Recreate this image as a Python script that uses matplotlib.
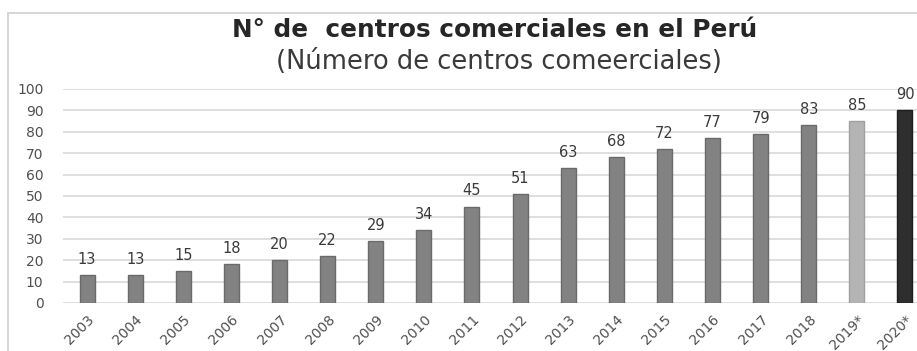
import numpy as np
import matplotlib.pyplot as plt
from matplotlib.patches import Rectangle

years = ['2003', '2004', '2005', '2006', '2007', '2008', '2009', '2010', '2011',
         '2012', '2013', '2014', '2015', '2016', '2017', '2018', '2019*', '2020*']
centros = [13, 13, 15, 18, 20, 22, 29, 34, 45, 51, 63, 68, 72, 77, 79, 83, 85, 90]

colores = ['#828282'] * 16 + ['#b4b4b4', '#2e2e2e']
bordes = ['#6a6a6a'] * 16 + ['#a0a0a0', '#1e1e1e']

plt.rcParams['font.family'] = ['DejaVu Sans']

fig = plt.figure(figsize=(9.17, 3.51), dpi=100)
fig.patch.set_facecolor('white')

# marco del grafico
fig.patches.append(Rectangle((8 / 917, -0.1), 1.2, 1.1 - 13 / 351, transform=fig.transFigure,
                             fill=False, edgecolor='#d0d0d0', linewidth=1.2))

ax = fig.add_axes([63 / 917, 48 / 351, 866 / 917, 214 / 351])
x = np.arange(len(years))
ax.bar(x, centros, width=0.31, color=colores, edgecolor=bordes, linewidth=1, zorder=3)

for i, v in enumerate(centros):
    ax.annotate(str(v), (x[i], v), xytext=(0, 6), textcoords='offset points',
                ha='center', va='bottom', fontsize=10.5, color='#3a3a3a')

ax.set_xlim(-0.5, len(years) - 0.5)
ax.set_ylim(0, 100)
ax.set_yticks(range(0, 101, 10))
ax.yaxis.grid(True, color='#d9d9d9', linewidth=1.2, zorder=0)
ax.set_axisbelow(True)
for s in ax.spines.values():
    s.set_visible(False)
ax.tick_params(axis='y', length=0, pad=14, labelsize=10, labelcolor='#505050')
ax.set_xticks(x)
ax.set_xticklabels(years, rotation=45, ha='right', rotation_mode='anchor',
                   fontsize=10, color='#505050')
ax.tick_params(axis='x', length=0, pad=7)

fig.text(495 / 917, 1 - 30 / 351, 'N° de  centros comerciales en el Perú',
         ha='center', va='center', fontsize=17.8, fontweight='bold', color='#262626')
fig.text(499 / 917, 1 - 62 / 351, '(Número de centros comeerciales)',
         ha='center', va='center', fontsize=18.5, color='#3a3a3a')

fig.savefig('out.png', dpi=100)
